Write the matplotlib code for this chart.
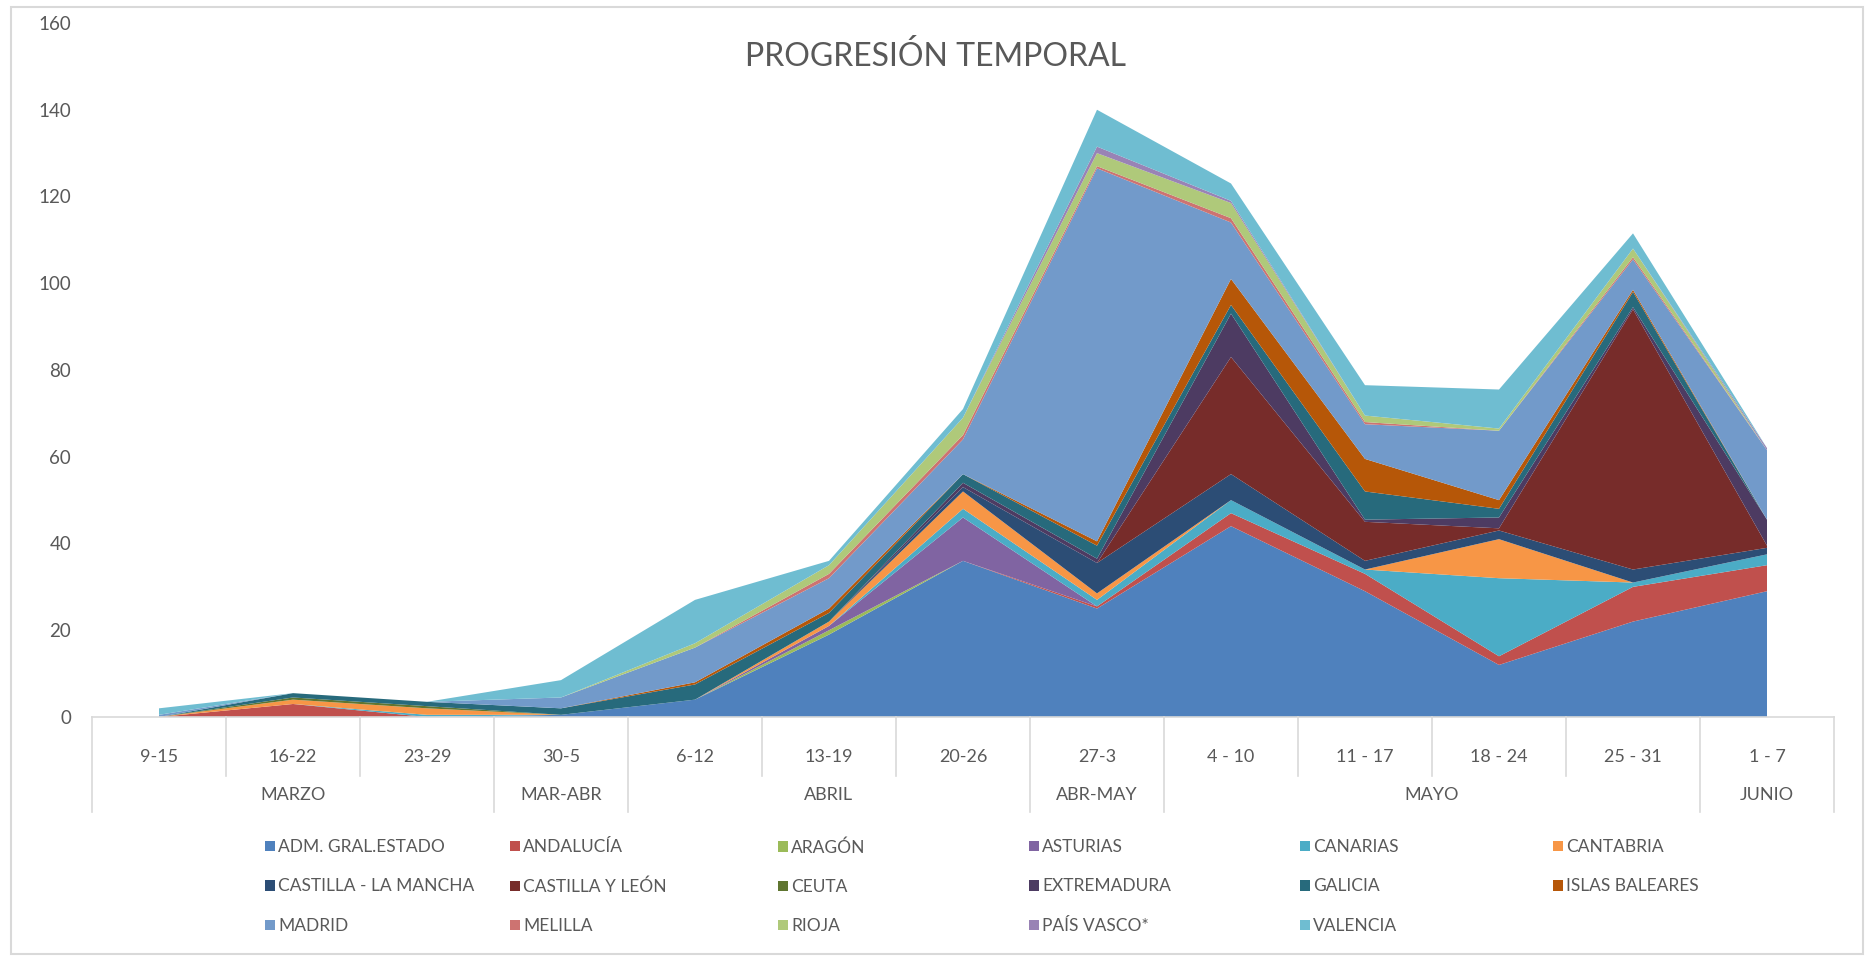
import numpy as np
import matplotlib
matplotlib.use("Agg")
import matplotlib.pyplot as plt
from matplotlib.patches import Patch, Rectangle
from matplotlib.transforms import blended_transform_factory

plt.rcParams['font.family'] = ['Lato', 'DejaVu Sans']

weeks = ['9-15', '16-22', '23-29', '30-5', '6-12', '13-19', '20-26', '27-3',
         '4 - 10', '11 - 17', '18 - 24', '25 - 31', '1 - 7']
months = ['MARZO', 'MAR-ABR', 'ABRIL', 'ABR-MAY', 'MAYO', 'JUNIO']
month_span = [3, 1, 3, 1, 4, 1]

regions = ['ADM. GRAL.ESTADO', 'ANDALUCÍA', 'ARAGÓN', 'ASTURIAS', 'CANARIAS',
           'CANTABRIA', 'CASTILLA - LA MANCHA', 'CASTILLA Y LEÓN', 'CEUTA',
           'EXTREMADURA', 'GALICIA', 'ISLAS BALEARES', 'MADRID', 'MELILLA',
           'RIOJA', 'PAÍS VASCO*', 'VALENCIA']

adm = [0, 0, 0, 0.5, 4, 19, 36, 25, 44, 29, 12, 22, 29]
andalucia = [0, 3, 0, 0, 0, 0, 0, 0.5, 3, 4, 2, 8, 6]
aragon = [0, 0, 0, 0, 0, 1, 0, 0, 0, 0, 0, 0, 0]
asturias = [0, 0, 0, 0, 0, 1, 10, 0, 0, 0, 0, 0, 0]
canarias = [0, 0, 0.5, 0, 0, 0, 2, 1.5, 3, 1, 18, 1, 2.5]
cantabria = [0, 1, 1.5, 0, 0, 1, 4, 1.5, 0, 0, 9, 0, 0]
cast_mancha = [0, 0, 0, 0, 0, 0, 1, 7, 6, 2, 2, 3, 1.5]
cast_leon = [0, 0, 0, 0, 0, 0, 0, 0, 27, 9, 0.5, 60, 0.5]
ceuta = [0, 0.5, 0.5, 0, 0, 0, 0, 0, 0, 0, 0, 0, 0]
extremadura = [0, 0, 0, 0, 0, 0, 1, 1, 10, 0.5, 2.5, 0.5, 6]
galicia = [0, 1, 1, 1.5, 3.5, 2, 2, 3, 2, 6.5, 2, 3.5, 0]
baleares = [0, 0, 0, 0, 0.5, 1, 0, 1, 6, 7.5, 2, 0.5, 0]
madrid = [0.5, 0, 0, 2.5, 8, 7, 8, 86, 13, 8, 16, 7, 16]
melilla = [0, 0, 0, 0, 0, 1, 1, 0.5, 1, 0.5, 0, 0.5, 0]
rioja = [0, 0, 0, 0, 1, 2, 4, 3, 3.5, 1.5, 0.5, 2, 0]
pais_vasco = [0, 0, 0, 0, 0, 0, 0, 1.5, 0.5, 0, 0, 0, 0.5]
valencia = [1.5, 0, 0, 4, 10, 1, 2, 8.5, 4, 7, 9, 3.5, 0]

series = [adm, andalucia, aragon, asturias, canarias, cantabria, cast_mancha,
          cast_leon, ceuta, extremadura, galicia, baleares, madrid, melilla,
          rioja, pais_vasco, valencia]

colors = ['#4F81BD', '#C0504D', '#9BBB59', '#8064A2', '#4BACC6', '#F79646',
          '#2C4D75', '#772C2A', '#5F7530', '#4D3B62', '#276A7C', '#B65708',
          '#729ACA', '#CD7371', '#AFC97A', '#9983B5', '#6FBDD1']

W, H = 1870, 963
txt = '#595959'
grid = '#D9D9D9'

fig = plt.figure(figsize=(W / 100, H / 100), dpi=100)
ax = fig.add_axes([92 / W, 1 - 717 / H, (1834 - 92) / W, (717 - 23) / H])

x = np.arange(len(weeks))
ax.stackplot(x, *series, colors=colors, linewidth=0)

ax.set_xlim(-0.5, len(weeks) - 0.5)
ax.set_ylim(0, 160)
ax.set_yticks(np.arange(0, 161, 20))
ax.tick_params(axis='y', length=0, pad=15, labelsize=13.5, labelcolor=txt)
ax.set_xticks(x)
ax.set_xticklabels(weeks)
ax.tick_params(axis='x', length=0, pad=23, labelsize=13, labelcolor=txt)
for s in ['left', 'right', 'top']:
    ax.spines[s].set_visible(False)
ax.spines['bottom'].set_color(grid)
ax.spines['bottom'].set_linewidth(1.2)

# multi-level category axis boxes
tr = blended_transform_factory(ax.transData, ax.transAxes)
bounds = np.cumsum([0] + month_span)
plot_h = 717 - 23
for i in range(len(weeks) + 1):
    depth = 95 if i in bounds else 59
    ax.plot([i - 0.5, i - 0.5], [0, -depth / plot_h], transform=tr,
            color=grid, lw=1.2, clip_on=False)
for k, m in enumerate(months):
    c = (bounds[k] + bounds[k + 1] - 1) / 2
    ax.text(c, -78 / plot_h, m, transform=tr, ha='center', va='center',
            fontsize=13, color=txt)

fig.text(936 / W, 1 - 56 / H, 'PROGRESIÓN TEMPORAL', ha='center', va='center',
         fontsize=23, color=txt)

# legend, laid out in rows like the original
col_x = [265, 510, 778, 1029, 1300, 1553]
for c in range(6):
    idx = list(range(c, len(regions), 6))
    handles = [Patch(facecolor=colors[i], edgecolor='none') for i in idx]
    labels = [regions[i] for i in idx]
    fig.legend(handles, labels, loc='upper left',
               bbox_to_anchor=(col_x[c] / W, 1 - 839 / H), frameon=False,
               borderpad=0, borderaxespad=0, handlelength=0.55,
               handleheight=0.55, handletextpad=0.2, labelspacing=1.35,
               fontsize=12.5, labelcolor=txt)

fig.patches.append(Rectangle((11 / W, 1 - 954 / H), (1863 - 11) / W,
                             (954 - 7) / H, transform=fig.transFigure,
                             fill=False, edgecolor=grid, lw=1.5))

fig.savefig('out.png', dpi=100)
